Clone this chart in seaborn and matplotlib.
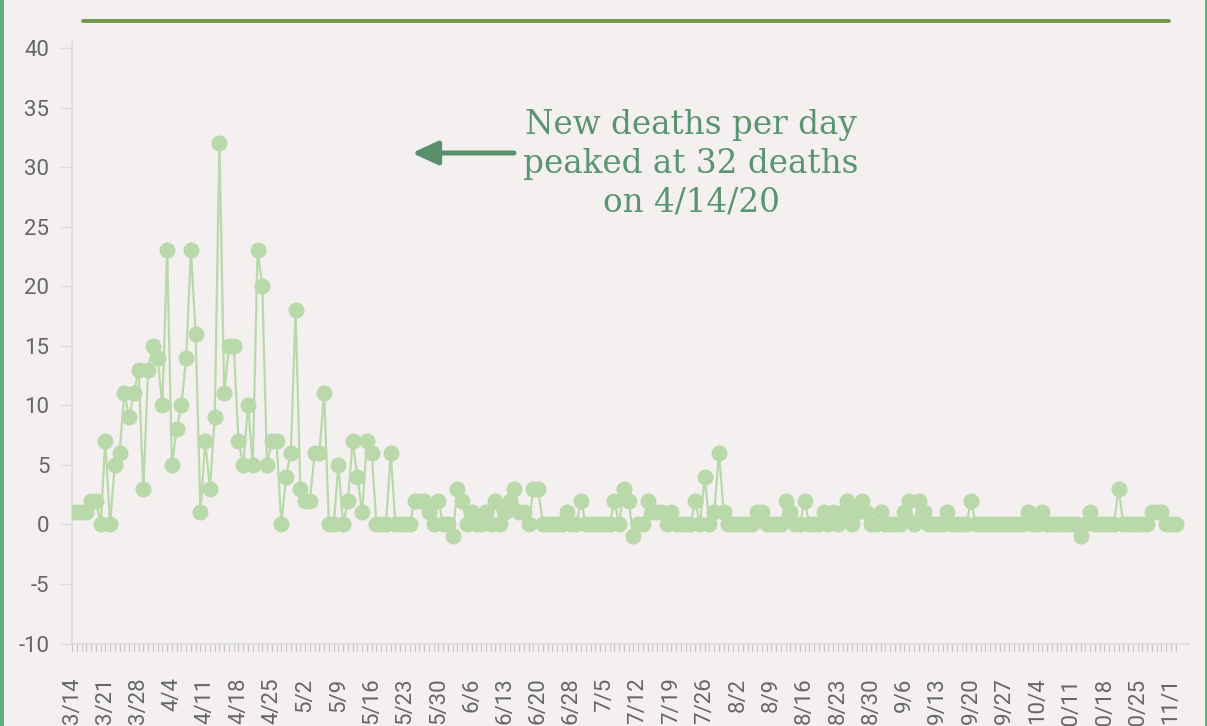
import numpy as np
import pandas as pd
import matplotlib
matplotlib.use("Agg")
import matplotlib.pyplot as plt
import seaborn as sns
from matplotlib.lines import Line2D
from matplotlib.patches import Rectangle

# ---------------- data ----------------
deaths = [
    1, 1, 1, 1, 2, 2, 0, 7, 0, 5,
    6, 11, 9, 11, 13, 3, 13, 15, 14, 10,
    23, 5, 8, 10, 14, 23, 16, 1, 7, 3,
    9, 32, 11, 15, 15, 7, 5, 10, 5, 23,
    20, 5, 7, 7, 0, 4, 6, 18, 3, 2,
    2, 6, 6, 11, 0, 0, 5, 0, 2, 7,
    4, 1, 7, 6, 0, 0, 0, 6, 0, 0,
    0, 0, 2, 2, 2, 1, 0, 2, 0, 0,
    -1, 3, 2, 0, 1, 0, 0, 1, 0, 2,
    0, 1, 2, 3, 1, 1, 0, 3, 3, 0,
    0, 0, 0, 0, 1, 0, 0, 2, 0, 0,
    0, 0, 0, 0, 2, 0, 3, 2, -1, 0,
    0, 2, 1, 1, 1, 0, 1, 0, 0, 0,
    0, 2, 0, 4, 0, 1, 6, 1, 0, 0,
    0, 0, 0, 0, 1, 1, 0, 0, 0, 0,
    2, 1, 0, 0, 2, 0, 0, 0, 1, 0,
    1, 0, 1, 2, 0, 1, 2, 1, 0, 0,
    1, 0, 0, 0, 0, 1, 2, 0, 2, 1,
    0, 0, 0, 0, 1, 0, 0, 0, 0, 2,
    0, 0, 0, 0, 0, 0, 0, 0, 0, 0,
    0, 1, 0, 0, 1, 0, 0, 0, 0, 0,
    0, 0, -1, 0, 1, 0, 0, 0, 0, 0,
    3, 0, 0, 0, 0, 0, 0, 1, 1, 1,
    0, 0, 0,
]

# category dates (2020-06-27 absent from the source series)
all_days = pd.date_range("2020-03-14", "2020-11-02")
missing_day = pd.Timestamp("2020-06-27")
dates = all_days[all_days != missing_day]
date_labels = [f"{d.month}/{d.day}" for d in dates]
label_every = 7

y_ticks = [40, 35, 30, 25, 20, 15, 10, 5, 0, -5, -10]

annotation = "New deaths per day\npeaked at 32 deaths\non 4/14/20"

# ---------------- style ----------------
BG = "#f3f0ef"
LINE = "#b9d9aa"
ANNO = "#5b9472"
ARROW = "#5a8f6e"
TOPLINE = "#6f9a4c"
BORDER = "#5aae7e"
TICKTXT = "#666666"
AXIS = "#dcdcdc"

sns.set_theme(style="white")
plt.rcParams["font.family"] = ["Roboto", "DejaVu Sans"]

W, H = 1207, 726
fig = plt.figure(figsize=(W / 100, H / 100), dpi=100, facecolor=BG)
ax = fig.add_axes([72 / W, (H - 643.5) / H, (1188.5 - 72) / W, (643.5 - 41.7) / H])
ax.set_facecolor(BG)

df = pd.DataFrame({"pos": np.arange(len(deaths)), "deaths": deaths, "date": date_labels})
sns.lineplot(data=df, x="pos", y="deaths", ax=ax, color=LINE, linewidth=1.6,
             marker="o", markersize=11.5, markeredgewidth=0,
             markerfacecolor=LINE, zorder=3)

ax.set_xlim(0, 234.7)
ax.set_ylim(-10, 40.53)
ax.set_xlabel("")
ax.set_ylabel("")

# y axis
ax.set_yticks(y_ticks)
ax.set_yticklabels([str(v) for v in y_ticks])
ax.tick_params(axis="y", length=8.6, width=1, color=AXIS, pad=7.7,
               labelsize=16, labelcolor=TICKTXT, left=True)

# x axis: tick at every day, label every 7th
ax.set_xticks(df["pos"])
ax.set_xticklabels([lab if i % label_every == 0 else "" for i, lab in enumerate(date_labels)],
                   rotation=90, va="top", ha="center")
ax.tick_params(axis="x", length=5, width=0.8, color="#c4c4c4", pad=19.4,
               labelsize=16, labelcolor=TICKTXT, bottom=True)

for side in ["top", "right"]:
    ax.spines[side].set_visible(False)
for side in ["left", "bottom"]:
    ax.spines[side].set_color(AXIS)
    ax.spines[side].set_linewidth(1.2)
ax.grid(False)

# annotation text + arrow
fig.text(691 / W, 1 - 164 / H, annotation, ha="center", va="center",
         multialignment="center", family="DejaVu Serif", fontsize=23.5,
         color=ANNO, linespacing=1.28)
ax.annotate("", xy=(412, H - 153), xytext=(514, H - 153),
            xycoords="figure pixels", textcoords="figure pixels",
            arrowprops=dict(arrowstyle="-|>,head_length=1.3,head_width=0.6",
                            lw=3.6, color=ARROW, shrinkA=0, shrinkB=0))

# decorative top rule and side borders
fig.add_artist(Line2D([83 / W, 1169 / W], [1 - 21 / H, 1 - 21 / H],
                      color=TOPLINE, lw=2.8, transform=fig.transFigure))
fig.add_artist(Rectangle((0, 0), 4 / W, 1, transform=fig.transFigure,
                         color=BORDER, lw=0))
fig.add_artist(Rectangle((1204.5 / W, 0), 2.5 / W, 1, transform=fig.transFigure,
                         color=BORDER, lw=0))

fig.savefig("out.png", dpi=100, facecolor=BG)
